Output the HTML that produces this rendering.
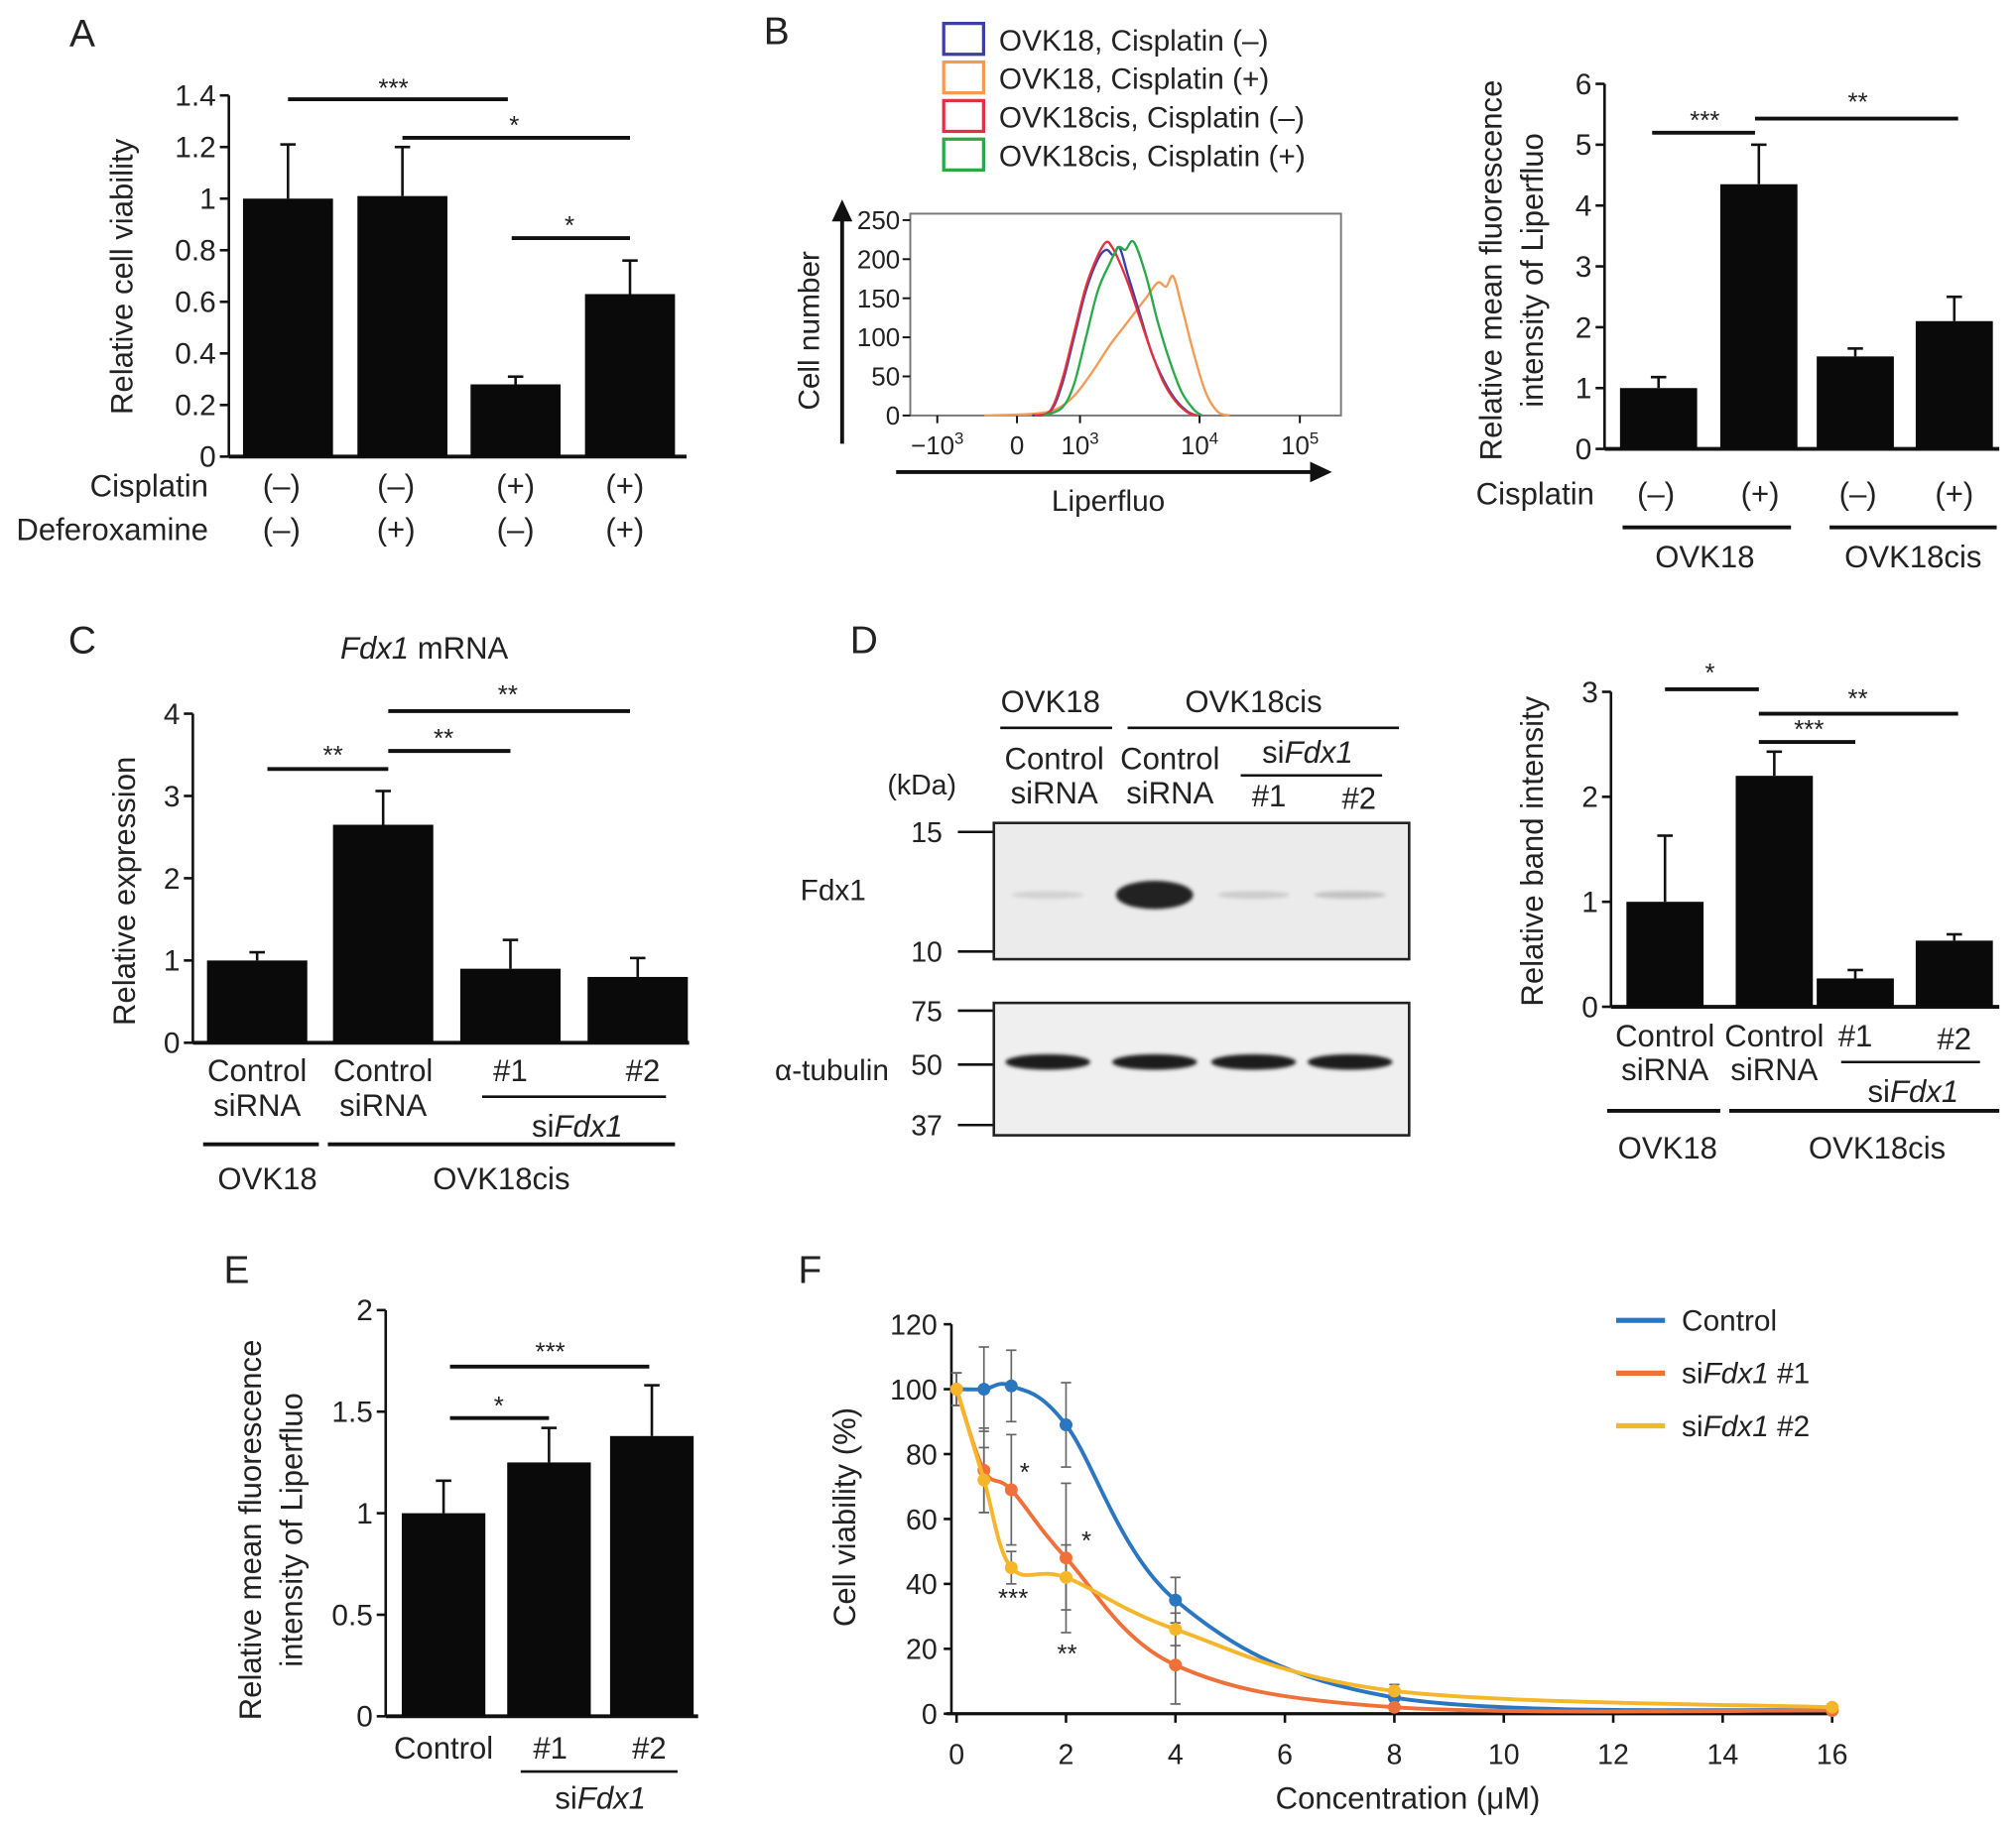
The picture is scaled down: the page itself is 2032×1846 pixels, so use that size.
<!DOCTYPE html>
<html><head><meta charset="utf-8">
<style>
html,body{margin:0;padding:0;background:#fff;}
svg{display:block;font-family:"Liberation Sans",Arial,sans-serif;}
text{fill:#222;}
</style></head>
<body>
<svg id="fig" width="2032" height="1846" viewBox="0 0 1568 1424" xmlns="http://www.w3.org/2000/svg">
<defs><filter id="blur" x="-50%" y="-50%" width="200%" height="200%"><feGaussianBlur stdDeviation="3"/></filter>
<filter id="blur2" x="-50%" y="-50%" width="200%" height="200%"><feGaussianBlur stdDeviation="1.5"/></filter></defs>
<g id="panels"></g>
</svg>
<script>
// ---- data ----
// Panel A
const aCats = ["1","2","3","4"];
const aVals = [1.0, 1.01, 0.28, 0.63];
const aErr  = [0.21, 0.19, 0.03, 0.13];
const aTicks = [0,0.2,0.4,0.6,0.8,1,1.2,1.4];
const aTickLabels = ["0","0.2","0.4","0.6","0.8","1","1.2","1.4"];
// Panel B histogram (log10 fluorescence, counts)
const hBlueX = [2.6,2.75,2.85,2.95,3.05,3.15,3.22,3.28,3.33,3.4,3.5,3.6,3.7,3.8,3.9,3.98];
const hBlueY = [0,5,40,100,160,200,212,205,215,180,130,80,45,20,5,0];
const hRedX  = [2.62,2.75,2.85,2.95,3.05,3.15,3.22,3.27,3.32,3.4,3.5,3.6,3.7,3.8,3.9,3.98];
const hRedY  = [0,6,45,105,165,205,222,215,200,170,125,80,42,18,4,0];
const hGreenX= [2.7,2.85,2.95,3.05,3.15,3.25,3.32,3.38,3.45,3.55,3.65,3.75,3.85,3.95,4.02];
const hGreenY= [0,10,40,100,160,195,215,212,222,180,120,70,30,8,0];
const hOrX   = [2.2,2.6,2.8,2.95,3.1,3.25,3.35,3.45,3.55,3.65,3.72,3.78,3.85,3.95,4.05,4.15,4.25];
const hOrY   = [0,2,8,25,55,90,110,130,150,170,165,178,140,80,30,5,0];
const hTicks = [0,50,100,150,200,250];
// Panel B bars
const bVals = [1.0, 4.35, 1.52, 2.1];
const bErr  = [0.18, 0.65, 0.13, 0.4];
const bTicks = [0,1,2,3,4,5,6];
// Panel C
const cVals = [1.0, 2.65, 0.9, 0.8];
const cErr  = [0.1, 0.41, 0.35, 0.23];
const cTicks = [0,1,2,3,4];
// Panel D bars
const dVals = [1.0, 2.2, 0.27, 0.63];
const dErr  = [0.63, 0.23, 0.08, 0.06];
const dTicks = [0,1,2,3];
// Panel E
const eVals = [1.0, 1.25, 1.38];
const eErr  = [0.16, 0.17, 0.25];
const eTicks = [0,0.5,1,1.5,2];
const eTickLabels = ["0","0.5","1","1.5","2"];
// Panel F
const fConc = [0,0.5,1,2,4,8,16];
const fControl = [100,100,101,89,35,5,1];
const fControlErr = [5,13,11,13,7,2,1];
const fSi1 = [100,75,69,48,15,2,1];
const fSi1Err = [5,13,17,23,12,1,1];
const fSi2 = [100,72,45,42,26,7,2];
const fSi2Err = [5,10,5,10,5,2,1];
const fXTicks = [0,2,4,6,8,10,12,14,16];
const fYTicks = [0,20,40,60,80,100,120];

// ---- helpers ----
const NS="http://www.w3.org/2000/svg";
const root=document.getElementById('panels');
function mk(tag, attrs, parent){const e=document.createElementNS(NS,tag);for(const k in attrs)e.setAttribute(k,attrs[k]);(parent||root).appendChild(e);return e;}
function line(x1,y1,x2,y2,w,name,col){const e=mk('line',{x1,y1,x2,y2,stroke:col||'#111','stroke-width':w||2});

return e;}
function txt(x,y,s,size,name,anchor,extra){const e=mk('text',Object.assign({x,y,'font-size':size||22,'text-anchor':anchor||'middle'},extra||{}));e.innerHTML=s;

return e;}
function smooth(pts){let d='M'+pts[0][0]+','+pts[0][1];for(let i=0;i<pts.length-1;i++){const p0=pts[i-1]||pts[i],p1=pts[i],p2=pts[i+1],p3=pts[i+2]||p2;
const c1x=p1[0]+(p2[0]-p0[0])/6,c1y=p1[1]+(p2[1]-p0[1])/6,c2x=p2[0]-(p3[0]-p1[0])/6,c2y=p2[1]-(p3[1]-p1[1])/6;
d+=` C${c1x},${c1y} ${c2x},${c2y} ${p2[0]},${p2[1]}`;}return d;}

function barPanel(o){
  const y=v=>o.y0-(v/o.max)*(o.y0-o.yTop);
  line(o.ax,o.y0,o.ax,o.yTop,2,o.p+'-y-axis');
  line(o.ax,o.y0,o.xEnd,o.y0,3,o.p+'-x-axis');
  o.ticks.forEach((t,i)=>{line(o.ax-7,y(t),o.ax,y(t),2,o.p+'-y-tick');
    txt(o.ax-10,y(t)+8,o.labels?o.labels[i]:String(t),o.fs||23,o.p+'-y-tick-label','end');});
  o.vals.forEach((v,i)=>{const cx=o.cx[i];
    const r=mk('rect',{x:cx-o.w/2,y:y(v),width:o.w,height:o.y0-y(v),fill:'#0a0a0a'});
    
    
    line(cx,y(v),cx,y(v+o.err[i]),2,o.p+'-error-bar');
    line(cx-6,y(v+o.err[i]),cx+6,y(v+o.err[i]),2,o.p+'-error-cap');
  });
}

// ---------- Panel A ----------
txt(64,36,'A',30,'panel-a-letter');
barPanel({p:'a',ax:178,y0:355,yTop:74,max:1.4,xEnd:534,ticks:aTicks,labels:aTickLabels,vals:aVals,err:aErr,cx:[224,313,401,490],w:70});
txt(103,215,'Relative cell viability',24,'a-y-axis-title','middle',{transform:'rotate(-90 103 215)'});
line(224,77,395,77,3,'a-sig-line');txt(306,75,'***',20,'a-sig-label');
line(313,107,490,107,3,'a-sig-line');txt(400,104,'*',20,'a-sig-label');
line(398,185,490,185,3,'a-sig-line');txt(443,182,'*',20,'a-sig-label');
txt(162,386,'Cisplatin',24,'a-cisplatin-label','end');
txt(162,420,'Deferoxamine',24,'a-deferoxamine-label','end');
['(–)','(–)','(+)','(+)'].forEach((s,i)=>txt([219,308,401,486][i],386,s,24,'a-cisplatin-value'));
['(–)','(+)','(–)','(+)'].forEach((s,i)=>txt([219,308,401,486][i],420,s,24,'a-deferoxamine-value'));

// ---------- Panel B histogram ----------
txt(604,34,'B',30,'panel-b-letter');
const legCols=['#3d3fa6','#f39a55','#e3303f','#2aa84a'];
const legTxt=['OVK18, Cisplatin (–)','OVK18, Cisplatin (+)','OVK18cis, Cisplatin (–)','OVK18cis, Cisplatin (+)'];
legCols.forEach((c,i)=>{const r=mk('rect',{x:734,y:18+i*30,width:31,height:24,fill:'none',stroke:c,'stroke-width':2.5});


txt(777,39+i*30,legTxt[i],23,'b-legend-entry','start');});
const hx=v=>840+(v-3)*93;
const hy=v=>323-v/250*152;
const hb=mk('rect',{x:708,y:166,width:335,height:157,fill:'none',stroke:'#777','stroke-width':1.5});


hTicks.forEach(t=>{line(702,hy(t),708,hy(t),1.5,'b-hist-y-tick');txt(700,hy(t)+7,String(t),20,'b-hist-y-tick-label','end');});
[[729,'−10<tspan dy="-8" font-size="13">3</tspan>'],[791,'0'],[840,'10<tspan dy="-8" font-size="13">3</tspan>'],[933,'10<tspan dy="-8" font-size="13">4</tspan>'],[1011,'10<tspan dy="-8" font-size="13">5</tspan>']].forEach(a=>{
  line(a[0],323,a[0],329,1.5,'b-hist-x-tick');txt(a[0],353,a[1],20,'b-hist-x-tick-label');});
line(655,345,655,170,3,'b-y-arrow');
const ya=mk('polygon',{points:'655,155 647,172 663,172',fill:'#111'});
line(697,367,1020,367,3,'b-x-arrow');
const xa=mk('polygon',{points:'1036,367 1019,359 1019,375',fill:'#111'});
txt(637,257,'Cell number',23,'b-hist-y-title','middle',{transform:'rotate(-90 637 257)'});
txt(862,397,'Liperfluo',23,'b-hist-x-title');
[[hOrX,hOrY,'#f39a55','orange'],[hBlueX,hBlueY,'#3d3fa6','blue'],[hRedX,hRedY,'#e3303f','red'],[hGreenX,hGreenY,'#2aa84a','green']].forEach(s=>{
  const pts=s[0].map((x,i)=>[hx(x),hy(s[1][i])]);
  const p=mk('path',{d:smooth(pts),fill:'none',stroke:s[2],'stroke-width':1.8});
  
  
});

// ---------- Panel B bars ----------
barPanel({p:'b',ax:1248,y0:349,yTop:65,max:6,xEnd:1555,ticks:bTicks,vals:bVals,err:bErr,cx:[1290,1368,1443,1520],w:60});
txt(1168,210,'Relative mean fluorescence',24,'b-y-axis-title','middle',{transform:'rotate(-90 1168 210)'});
txt(1200,210,'intensity of Liperfluo',24,'b-y-axis-title-2','middle',{transform:'rotate(-90 1200 210)'});
line(1285,103,1365,103,3,'b-sig-line');txt(1326,100,'***',20,'b-sig-label');
line(1365,92,1523,92,3,'b-sig-line');txt(1445,86,'**',20,'b-sig-label');
txt(1240,392,'Cisplatin',24,'b-cisplatin-label','end');
['(–)','(+)','(–)','(+)'].forEach((s,i)=>txt([1288,1369,1445,1520][i],392,s,24,'b-cisplatin-value'));
line(1262,410,1393,410,3,'b-group-line');line(1423,410,1553,410,3,'b-group-line');
txt(1326,441,'OVK18',24,'b-group-label');txt(1488,441,'OVK18cis',24,'b-group-label');

// ---------- Panel C ----------
txt(64,508,'C',30,'panel-c-letter');
txt(330,512,'<tspan font-style="italic">Fdx1</tspan> mRNA',24,'c-title');
barPanel({p:'c',ax:150,y0:811,yTop:555,max:4,xEnd:536,ticks:cTicks,vals:cVals,err:cErr,cx:[200,298,397,496],w:78});
txt(105,693,'Relative expression',24,'c-y-axis-title','middle',{transform:'rotate(-90 105 693)'});
line(208,598,302,598,3,'c-sig-line');txt(259,594,'**',20,'c-sig-label');
line(302,584,397,584,3,'c-sig-line');txt(345,581,'**',20,'c-sig-label');
line(302,553,490,553,3,'c-sig-line');txt(395,547,'**',20,'c-sig-label');
txt(200,841,'Control',24,'c-x-label');txt(200,868,'siRNA',24,'c-x-label');
txt(298,841,'Control',24,'c-x-label');txt(298,868,'siRNA',24,'c-x-label');
txt(397,841,'#1',24,'c-x-label');txt(500,841,'#2',24,'c-x-label');
line(375,853,518,853,2,'c-sirna-line');txt(449,884,'si<tspan font-style="italic">Fdx1</tspan>',24,'c-sirna-label');
line(158,890,248,890,3,'c-group-line');line(255,890,525,890,3,'c-group-line');
txt(208,925,'OVK18',24,'c-group-label');txt(390,925,'OVK18cis',24,'c-group-label');

// ---------- Panel D blot ----------
txt(672,508,'D',30,'panel-d-letter');
txt(817,554,'OVK18',24,'d-blot-group-label');txt(975,554,'OVK18cis',24,'d-blot-group-label');
line(778,566,865,566,2,'d-blot-group-line');line(877,566,1088,566,2,'d-blot-group-line');
txt(820,598,'Control',24,'d-lane-label');txt(820,625,'siRNA',24,'d-lane-label');
txt(910,598,'Control',24,'d-lane-label');txt(910,625,'siRNA',24,'d-lane-label');
txt(1017,593,'si<tspan font-style="italic">Fdx1</tspan>',24,'d-lane-label');
line(965,603,1075,603,2,'d-sirna-line');
txt(987,627,'#1',24,'d-lane-label');txt(1057,629,'#2',24,'d-lane-label');
txt(717,618,'(kDa)',22,'d-kda-label');
[['15',647],['10',740],['75',786],['50',828],['37',875]].forEach(a=>{line(745,a[1],773,a[1],2,'d-marker-tick');txt(733,a[1]+8,a[0],22,'d-marker-label','end');});
const bx1=mk('rect',{x:773,y:640,width:323,height:106,fill:'#ebebeb',stroke:'#222','stroke-width':2});
const bx2=mk('rect',{x:773,y:780,width:323,height:103,fill:'#efefef',stroke:'#222','stroke-width':2});
txt(648,700,'Fdx1',23,'d-fdx1-label');txt(647,840,'α-tubulin',23,'d-tubulin-label');
[[815,0.12],[898,1],[975,0.15],[1050,0.2]].forEach(b=>{const e=mk('ellipse',{cx:b[0],cy:696,rx:b[1]>0.5?30:28,ry:b[1]>0.5?11:3,fill:'#222',opacity:b[1],filter:'url(#blur2)'});
});
[815,898,975,1050].forEach(x=>{const e=mk('ellipse',{cx:x,cy:826,rx:33,ry:6,fill:'#1a1a1a',filter:'url(#blur2)'});
});

// ---------- Panel D bars ----------
barPanel({p:'d',ax:1253,y0:783,yTop:538,max:3,xEnd:1555,ticks:dTicks,vals:dVals,err:dErr,cx:[1295,1380,1443,1520],w:60});
txt(1200,662,'Relative band intensity',24,'d-y-axis-title','middle',{transform:'rotate(-90 1200 662)'});
line(1295,536,1368,536,3,'d-sig-line');txt(1330,530,'*',20,'d-sig-label');
line(1368,577,1443,577,3,'d-sig-line');txt(1407,574,'***',20,'d-sig-label');
line(1368,555,1523,555,3,'d-sig-line');txt(1445,550,'**',20,'d-sig-label');
txt(1295,814,'Control',24,'d-x-label');txt(1295,840,'siRNA',24,'d-x-label');
txt(1380,814,'Control',24,'d-x-label');txt(1380,840,'siRNA',24,'d-x-label');
txt(1443,814,'#1',24,'d-x-label');txt(1520,816,'#2',24,'d-x-label');
line(1432,826,1540,826,2,'d-sirna-line');txt(1488,857,'si<tspan font-style="italic">Fdx1</tspan>',24,'d-sirna-label');
line(1250,864,1338,864,3,'d-group-line');line(1345,864,1555,864,3,'d-group-line');
txt(1297,901,'OVK18',24,'d-group-label');txt(1460,901,'OVK18cis',24,'d-group-label');

// ---------- Panel E ----------
txt(184,998,'E',30,'panel-e-letter');
barPanel({p:'e',ax:300,y0:1335,yTop:1019,max:2,xEnd:543,ticks:eTicks,labels:eTickLabels,vals:eVals,err:eErr,cx:[345,427,507],w:65});
txt(203,1190,'Relative mean fluorescence',24,'e-y-axis-title','middle',{transform:'rotate(-90 203 1190)'});
txt(235,1190,'intensity of Liperfluo',24,'e-y-axis-title-2','middle',{transform:'rotate(-90 235 1190)'});
line(350,1103,427,1103,3,'e-sig-line');txt(388,1100,'*',20,'e-sig-label');
line(350,1063,505,1063,3,'e-sig-line');txt(428,1058,'***',20,'e-sig-label');
txt(345,1368,'Control',24,'e-x-label');txt(428,1368,'#1',24,'e-x-label');txt(505,1368,'#2',24,'e-x-label');
line(405,1378,527,1378,2,'e-sirna-line');txt(467,1407,'si<tspan font-style="italic">Fdx1</tspan>',24,'e-sirna-label');

// ---------- Panel F ----------
txt(630,998,'F',30,'panel-f-letter');
const fx=v=>744+v*(1425-744)/16;
const fy=v=>1333-v*(1333-1030)/120;
line(740,1030,740,1333,2,'f-y-axis');line(736,1333,1428,1333,2.5,'f-x-axis');
fYTicks.forEach(t=>{line(734,fy(t),740,fy(t),2,'f-y-tick');txt(729,fy(t)+8,String(t),22,'f-y-tick-label','end');});
fXTicks.forEach(t=>{line(fx(t),1333,fx(t),1340,2,'f-x-tick');txt(fx(t),1372,String(t),22,'f-x-tick-label');});
txt(665,1180,'Cell viability (%)',24,'f-y-axis-title','middle',{transform:'rotate(-90 665 1180)'});
txt(1095,1407,'Concentration (μM)',24,'f-x-axis-title');
[[fControl,fControlErr,'#2a76c0','control'],[fSi1,fSi1Err,'#f0703a','sifdx1-1'],[fSi2,fSi2Err,'#f5b62a','sifdx1-2']].forEach(s=>{
  s[0].forEach((v,i)=>{const x=fx(fConc[i]);
    line(x,fy(v-s[1][i]),x,fy(v+s[1][i]),1.3,'f-error-bar','#666');
    line(x-4,fy(v-s[1][i]),x+4,fy(v-s[1][i]),1.3,'f-error-cap','#666');
    line(x-4,fy(v+s[1][i]),x+4,fy(v+s[1][i]),1.3,'f-error-cap','#666');});
});
[[fControl,'#2a76c0','control'],[fSi1,'#f0703a','sifdx1-1'],[fSi2,'#f5b62a','sifdx1-2']].forEach(s=>{
  const pts=s[0].map((v,i)=>[fx(fConc[i]),fy(v)]);
  const p=mk('path',{d:smooth(pts),fill:'none',stroke:s[1],'stroke-width':3});
  
  
  pts.forEach(pt=>{const c=mk('circle',{cx:pt[0],cy:pt[1],r:5,fill:s[1]});
    
    });
});
txt(797,1152,'*',20,'f-sig-label');txt(845,1205,'*',20,'f-sig-label');
txt(788,1250,'***',20,'f-sig-label');txt(830,1293,'**',20,'f-sig-label');
[['Control','#2a76c0'],['si<tspan font-style="italic">Fdx1</tspan> #1','#f0703a'],['si<tspan font-style="italic">Fdx1</tspan> #2','#f5b62a']].forEach((l,i)=>{
  line(1257,1027+i*41,1295,1027+i*41,4,'f-legend-swatch',l[1]);
  txt(1308,1035+i*41,l[0],23,'f-legend-entry','start');});
</script>
</body></html>
